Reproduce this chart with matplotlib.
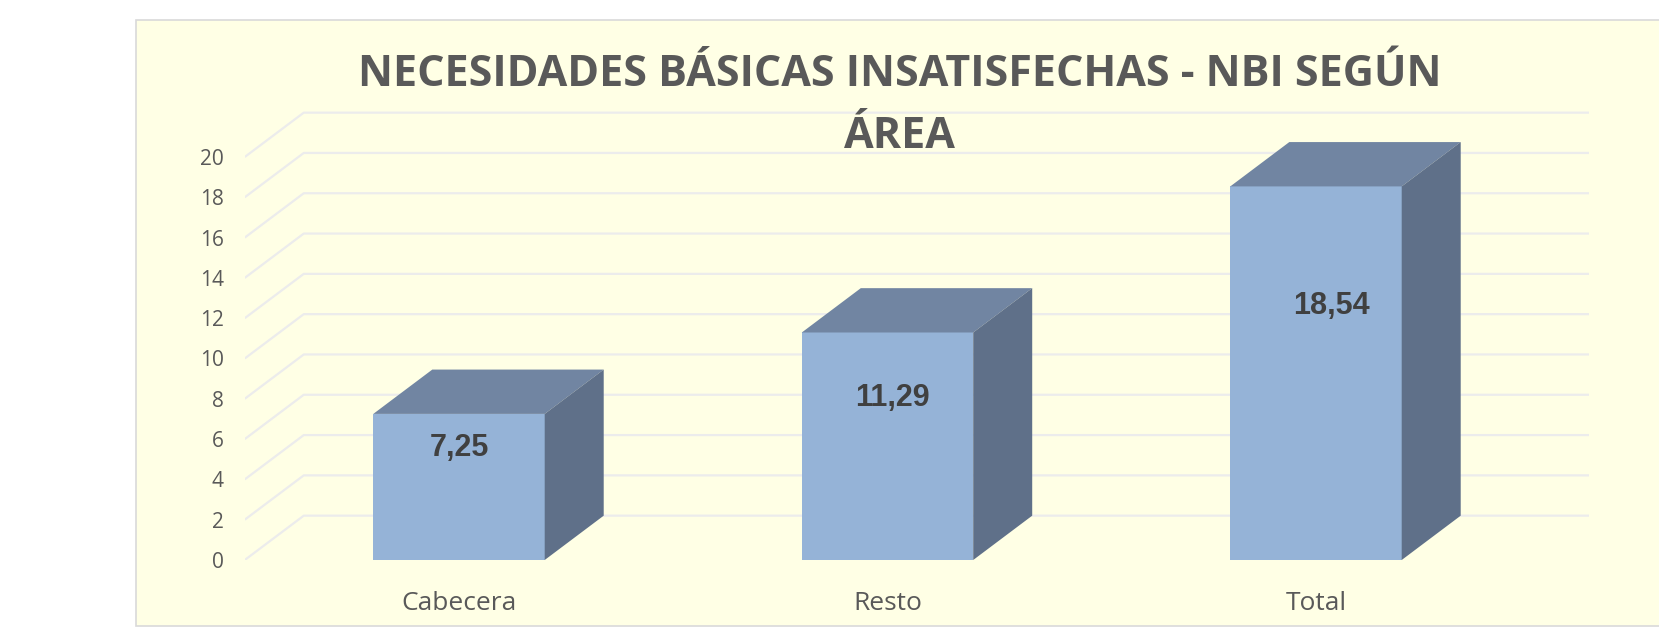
import matplotlib
matplotlib.use("Agg")
import matplotlib.pyplot as plt
from matplotlib.patches import Polygon, Rectangle

# datos del grafico
categorias = ["Cabecera", "Resto", "Total"]
valores = [7.25, 11.29, 18.54]
etiquetas = ["7,25", "11,29", "18,54"]
yticks = list(range(0, 21, 2))
titulo_1 = "NECESIDADES BÁSICAS INSATISFECHAS - NBI SEGÚN"
titulo_2 = "ÁREA"

# colores
fondo = "#FFFFE5"
c_frente = "#95B3D7"
c_arriba = "#7185A2"
c_lado = "#5F7089"
c_grid = "#ECECEC"
c_texto = "#595959"

# profundidad 3D (en unidades de datos)
ddx = 0.1377
ddy = 2.2
ancho = 0.4

fig = plt.figure(figsize=(16.59, 6.28), dpi=100)
fig.patch.set_facecolor("white")

# panel de fondo
panel = Rectangle((0.0818, 0.0032), 1.0, 0.9650, transform=fig.transFigure,
                  facecolor=fondo, edgecolor="#D9D9D9", linewidth=1.2, zorder=0)
fig.add_artist(panel)

ax = fig.add_axes([0.14753, 0.10828, 0.81043, 0.72197])
ax.set_facecolor("none")
ax.set_xlim(-0.5, 2.5 + ddx)
ax.set_ylim(0, 22.5)
for s in ax.spines.values():
    s.set_visible(False)

# lineas de division (pared izquierda + fondo)
for v in yticks:
    ax.plot([-0.5, -0.5 + ddx, 2.5 + ddx], [v, v + ddy, v + ddy],
            color=c_grid, lw=1.6, zorder=1, solid_capstyle="butt")

x = list(range(len(categorias)))
ax.bar(x, valores, width=ancho, color=c_frente, zorder=3)

for i, v in enumerate(valores):
    x0 = i - ancho / 2
    x1 = i + ancho / 2
    arriba = Polygon([(x0, v), (x0 + ddx, v + ddy), (x1 + ddx, v + ddy), (x1, v)],
                     closed=True, facecolor=c_arriba, edgecolor="none", zorder=3)
    lado = Polygon([(x1, 0), (x1, v), (x1 + ddx, v + ddy), (x1 + ddx, ddy)],
                   closed=True, facecolor=c_lado, edgecolor="none", zorder=3)
    ax.add_patch(arriba)
    ax.add_patch(lado)

# etiquetas de valor
pos_etiq = [5.57, 8.06, 12.6]
desp_etiq = [0.0, 0.012, 0.035]
for i, t in enumerate(etiquetas):
    ax.text(i + desp_etiq[i], pos_etiq[i], t, ha="center", va="center",
            fontsize=22, fontweight="bold", family="Liberation Sans",
            color="#404040", zorder=5)

ax.set_yticks(yticks)
ax.set_yticklabels([str(t) for t in yticks], family="Open Sans",
                   fontsize=15, color=c_texto)
ax.set_xticks(x)
ax.set_xticklabels(categorias, family="Open Sans", fontsize=19, color=c_texto)
ax.tick_params(axis="y", length=0, pad=15)
ax.tick_params(axis="x", length=0, pad=22)

fig.text(900 / 1659, 1 - 86 / 628, titulo_1, ha="center", va="baseline",
         fontsize=31, fontweight="bold", family="Open Sans", color=c_texto)
fig.text(900 / 1659, 1 - 148 / 628, titulo_2, ha="center", va="baseline",
         fontsize=31, fontweight="bold", family="Open Sans", color=c_texto)

fig.savefig("out.png", dpi=100, facecolor=fig.get_facecolor())
